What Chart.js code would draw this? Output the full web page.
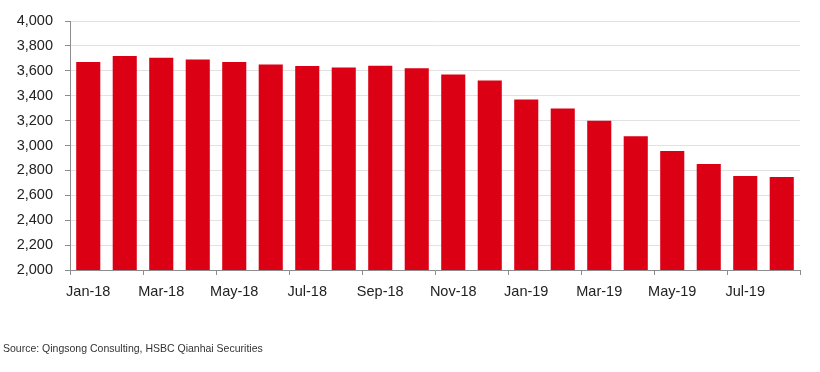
<!DOCTYPE html>
<html>
<head>
<meta charset="utf-8">
<script src="https://cdn.jsdelivr.net/npm/chart.js@4.4.1/dist/chart.umd.min.js"></script>
<style>
  html, body { margin: 0; padding: 0; background: #fff; }
  #wrap { position: relative; width: 820px; height: 372px; }
  #source {
    position: absolute; left: 3px; top: 342px;
    font-family: 'Liberation Sans', Arial, sans-serif; font-size: 10.5px; color: #333;
  }
</style>
</head>
<body>
<div id="wrap">
  <canvas id="chart" width="820" height="372"></canvas>
  <div id="source">Source: Qingsong Consulting, HSBC Qianhai Securities</div>
</div>
<script>
const MONTHS = [
  'Jan-18', 'Feb-18', 'Mar-18', 'Apr-18', 'May-18', 'Jun-18', 'Jul-18', 'Aug-18', 'Sep-18', 'Oct-18',
  'Nov-18', 'Dec-18', 'Jan-19', 'Feb-19', 'Mar-19', 'Apr-19', 'May-19', 'Jun-19', 'Jul-19', 'Aug-19'
];
const VALUES = [
  3670, 3718, 3705, 3690, 3670, 3650, 3638, 3626, 3641, 3621,
  3571, 3522, 3370, 3297, 3198, 3075, 2956, 2852, 2755, 2747
];
const Y_MIN = 2000;
const Y_MAX = 4000;
const Y_STEP = 200;

const BAR_RED = '#dc0015';
const AXIS_GREY = '#8c8c8c';
const FONT = { family: "'Liberation Sans', Arial, sans-serif", size: 14.5 };

const ctx = document.getElementById('chart').getContext('2d');

new Chart(ctx, {
  type: 'bar',
  data: {
    labels: MONTHS,
    datasets: [{
      data: VALUES,
      backgroundColor: BAR_RED,
      borderWidth: 0,
      barPercentage: 0.66,
      categoryPercentage: 1.0,
    }]
  },
  options: {
    responsive: false,
    animation: false,
    layout: { padding: { top: 21, right: 20, bottom: 62, left: 0 } },
    plugins: { legend: { display: false }, tooltip: { enabled: false } },
    scales: {
      x: {
        offset: true,
        grid: {
          offset: true,
          drawOnChartArea: false,
          color: AXIS_GREY,
          // tick mark only every second month (plus the closing one at the right end)
          tickColor: c => (c.index === undefined || c.index % 2 === 0 ? AXIS_GREY : 'rgba(0,0,0,0)'),
          tickLength: 5,
        },
        border: { color: AXIS_GREY, width: 1 },
        ticks: {
          color: '#222',
          font: FONT,
          padding: 8,
          autoSkip: false,
          maxRotation: 0,
          callback: (v, i) => (i % 2 === 0 ? MONTHS[i] : ''),
        },
        afterFit: s => { s.height = 40; },
      },
      y: {
        min: Y_MIN,
        max: Y_MAX,
        grid: {
          color: '#e2e2e2',
          tickColor: AXIS_GREY,
          tickLength: 5,
        },
        border: { color: AXIS_GREY, width: 1 },
        ticks: {
          stepSize: Y_STEP,
          color: '#222',
          font: FONT,
          padding: 12,
          callback: v => v.toLocaleString('en-US'),
        },
        afterFit: s => { s.width = 70; },
      }
    }
  }
});
</script>
</body>
</html>
